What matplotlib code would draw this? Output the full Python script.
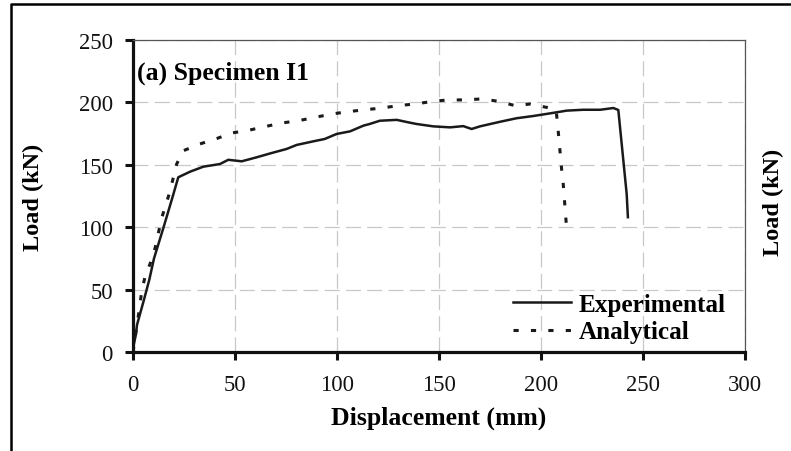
import matplotlib
matplotlib.use("Agg")
import matplotlib.pyplot as plt
from matplotlib.lines import Line2D

plt.rcParams['font.family'] = ['Liberation Serif', 'DejaVu Serif']

# experimental curve (displacement mm, load kN)
exp_disp = [0, 1.3, 2, 5.4, 8, 10.3, 15, 19, 22.2, 28, 34.5, 42.6, 46.7, 53.3,
            60.6, 67, 75.3, 80.2, 88.4, 94, 99.8, 106.4, 113, 116, 121, 129.3,
            135, 139, 147.2, 155.4, 161.9, 166, 170.1, 180, 188, 196.2, 204.4,
            212.6, 220.7, 229, 235.5, 237.9, 242, 242.6]
exp_load = [3, 13, 22, 42, 58, 75, 100, 122, 140, 144.5, 148.5, 150.6, 154, 152.8,
            156, 159, 162.7, 165.9, 168.8, 170.7, 174.7, 176.8, 181.4, 182.7, 185.3, 186,
            184, 182.7, 180.8, 180, 181, 178.7, 180.8, 184.5, 187.3, 189.1, 191.2,
            193.4, 194.1, 194.1, 195.5, 193.9, 126.6, 108]

# analytical curve
ana_disp = [0, 2, 3.4, 4.3, 6, 8.7, 10.8, 14, 18, 19.8, 21.4, 24.7, 32.8, 41,
            48.4, 56.5, 64.7, 72.9, 81, 89.2, 97.4, 105.5, 113.7, 121.9, 130.9,
            138.2, 147.2, 154.6, 162.7, 170.9, 179, 187.3, 194.6, 202.8, 207.4,
            208.2, 210.1, 210.9, 212.6]
ana_load = [0, 22, 38, 49, 61, 72, 83, 107, 128, 140, 150.6, 161.3, 166.7, 171,
            175.5, 177.6, 180.6, 183.5, 185.3, 188, 190.7, 192.6, 194.1, 195.5, 197.6,
            198.7, 200.9, 202, 202, 202.8, 200.9, 197.4, 198.7, 196, 194,
            181.3, 146.6, 134.6, 98]

x_ticks = [0, 50, 100, 150, 200, 250, 300]
y_ticks = [0, 50, 100, 150, 200, 250]

fig = plt.figure(figsize=(7.91, 4.52), dpi=100)
ax = fig.add_axes([133 / 791, 1 - 353 / 452, 612 / 791, 312 / 452])

ax.plot(exp_disp, exp_load, color='#1a1a1a', lw=1.8, label='Experimental')
ax.plot(ana_disp, ana_load, color='#1a1a1a', lw=2.2, dashes=(1.7, 4),
        label='Analytical')

ax.set_xlim(0, 300)
ax.set_ylim(0, 250)
ax.set_xticks(x_ticks)
ax.set_yticks(y_ticks)
ax.grid(True, color='#c8c8c8', linestyle=(0, (12, 5)), linewidth=0.9)
ax.set_axisbelow(True)

for side in ['left', 'bottom']:
    ax.spines[side].set_linewidth(2.3)
    ax.spines[side].set_color('#111111')
for side in ['top', 'right']:
    ax.spines[side].set_linewidth(0.9)
    ax.spines[side].set_color('#555555')

ax.tick_params(axis='both', direction='out', length=5.5, width=2.2,
               labelsize=16.3, colors='#111111', pad=9)
ax.tick_params(axis='x', pad=10)

ax.set_xlabel('Displacement (mm)', fontsize=18.5, fontweight='bold')
ax.set_ylabel('Load (kN)', fontsize=17.5, fontweight='bold')
ax.xaxis.set_label_coords(0.5, -0.173)
ax.yaxis.set_label_coords(-0.145, 0.5)

ax.text(0.0065, 0.897, '(a) Specimen I1', transform=ax.transAxes,
        fontsize=18.5, fontweight='bold', va='center', ha='left')

ax.legend(loc='center left', bbox_to_anchor=(0.621, 0.108), frameon=False,
          prop={'weight': 'bold', 'size': 18.2}, handlelength=2.3,
          handletextpad=0.3, labelspacing=0.17, borderpad=0, borderaxespad=0)

# second axis label on the right edge
fig.text(773 / 791, 1 - 202 / 452, 'Load (kN)', rotation=90, fontsize=17.5,
         fontweight='bold', ha='center', va='center')

# outer frame (top and left edges visible)
fig.add_artist(Line2D([11 / 791, 11 / 791, 1.0], [0.0, 1 - 5 / 452, 1 - 5 / 452],
                      transform=fig.transFigure, color='black', lw=1.8))

fig.savefig('out.png', dpi=100)
